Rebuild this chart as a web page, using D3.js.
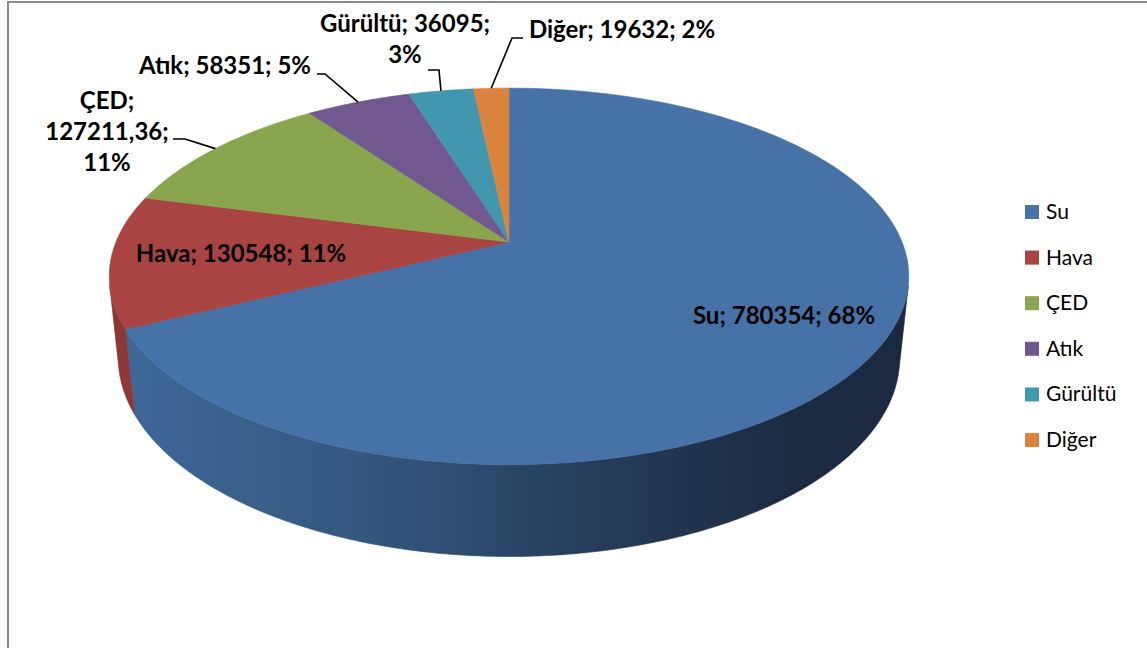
<!DOCTYPE html>
<html>
<head>
<meta charset="utf-8">
<script src="https://cdn.jsdelivr.net/npm/d3@7"></script>
<style>
  html, body { margin: 0; padding: 0; background: #ffffff; }
  svg { display: block; }
</style>
</head>
<body>
<svg id="chart" width="1147" height="648"></svg>
<script>
// Complaint categories and their totals
const categories  = ["Su", "Hava", "ÇED", "Atık", "Gürültü", "Diğer"];
const values      = [780354, 130548, 127211.36, 58351, 36095, 19632];
const valueLabels = ["780354", "130548", "127211,36", "58351", "36095", "19632"];

// Slice colours (top face) and side-wall colours
const topColors  = ["#4672a8", "#a84543", "#89a64e", "#71588f", "#4297af", "#db843d"];
const wallColors = ["url(#wallSu)", "#8c3835", "#6f8a3c", "#5b4673", "#347a8d", "#b56a2e"];

const svg = d3.select("#chart");
const W = 1147, H = 648;

// ---- gradients ----
const defs = svg.append("defs");
const g1 = defs.append("linearGradient").attr("id", "wallSu")
  .attr("gradientUnits", "userSpaceOnUse")
  .attr("x1", 120).attr("y1", 0).attr("x2", 910).attr("y2", 0);
[[0, "#3f6799"], [0.3, "#34587f"], [0.6, "#253c5a"], [0.85, "#1c2b42"], [1, "#1b2940"]]
  .forEach(([o, c]) => g1.append("stop").attr("offset", o).attr("stop-color", c));

// ---- frame ----
svg.append("rect")
  .attr("x", 8).attr("y", 2).attr("width", W + 20).attr("height", H + 20)
  .attr("fill", "#ffffff").attr("stroke", "#8a8a8a").attr("stroke-width", 2);

// ---- 3D pie projection ----
const cx = 509, cy = 242;          // screen position of the pie centre
const focal = 1908;                // focal length (px per unit at distance 1)
const dist = 1;                    // camera distance to pie centre
const radius = 0.206;              // pie radius (world units)
const thick = 0.0486;              // pie thickness (world units)
const tilt = Math.asin(0.463);     // camera elevation
const sinT = Math.sin(tilt), cosT = Math.cos(tilt);

// phi: clockwise angle from the far point; y: 0 = top face, -thick = bottom
function project(phi, y, r = radius) {
  const X = r * Math.sin(phi), Z = r * Math.cos(phi);
  const yc = y * cosT + Z * sinT;
  const depth = dist + Z * cosT - y * sinT;
  return [cx + focal * X / depth, cy - focal * yc / depth];
}

const pie = d3.pie().sort(null).value(d => d)(values);
const total = d3.sum(values);

const step = Math.PI / 360;
function arcPts(a0, a1, y) {
  const n = Math.max(2, Math.ceil(Math.abs(a1 - a0) / step));
  return d3.range(n + 1).map(i => project(a0 + (a1 - a0) * i / n, y));
}

// the outer wall faces the camera where cos(phi) < -radius / (dist * cos(tilt))
const cLim = -radius / (dist * cosT);
const visMin = Math.acos(cLim), visMax = 2 * Math.PI - Math.acos(cLim);

const line = d3.line().curve(d3.curveLinearClosed);
const walls = svg.append("g");
const tops = svg.append("g");

pie.forEach((s, i) => {
  const a = Math.max(s.startAngle, visMin), b = Math.min(s.endAngle, visMax);
  if (b > a) {
    const pts = arcPts(a, b, 0).concat(arcPts(b, a, -thick));
    walls.append("path").attr("d", line(pts))
      .attr("fill", wallColors[i]).attr("stroke", wallColors[i]).attr("stroke-width", 0.6);
  }
});

pie.forEach((s, i) => {
  const pts = [project(0, 0, 0)].concat(arcPts(s.startAngle, s.endAngle, 0));
  tops.append("path").attr("d", line(pts))
    .attr("fill", topColors[i]).attr("stroke", topColors[i]).attr("stroke-width", 0.6);
});

// ---- data labels ----
// groups: which parts (name, value, percent) share a line
const labelLayout = [
  { x: 784, y: 324, groups: [[0, 1, 2]] },
  { x: 241, y: 262, groups: [[0, 1, 2]] },
  { x: 107, y: 109, groups: [[0], [1], [2]], leader: [173, 185, 139] },
  { x: 225, y: 74,  groups: [[0, 1, 2]], leader: [317, 325, 74] },
  { x: 405, y: 32,  groups: [[0, 1], [2]], leader: [428, 439, 70] },
  { x: 622, y: 38,  groups: [[0, 1, 2]], leader: [523, 512, 38] }
];
const lineGap = 31;
const labels = svg.append("g")
  .attr("font-family", "Lato, 'Open Sans', sans-serif")
  .attr("font-weight", "bold").attr("font-size", 24).attr("fill", "#000");
const leaders = svg.append("g").attr("fill", "none").attr("stroke", "#000").attr("stroke-width", 1.6);

pie.forEach((s, i) => {
  const L = labelLayout[i];
  const parts = [categories[i], valueLabels[i], Math.round(values[i] / total * 100) + "%"];
  L.groups.forEach((g, k) => {
    const txt = g.map(j => parts[j]).join("; ") + (k < L.groups.length - 1 ? ";" : "");
    labels.append("text").attr("x", L.x).attr("y", L.y + k * lineGap)
      .attr("text-anchor", "middle").text(txt);
  });
  if (L.leader) {
    const mid = (s.startAngle + s.endAngle) / 2;
    const end = project(mid, 0);
    const [xa, xb, yl] = L.leader;
    leaders.append("path").attr("d", d3.line()([[xa, yl], [xb, yl], end]));
  }
});

// ---- legend ----
const legend = svg.append("g")
  .attr("font-family", "Lato, 'Open Sans', sans-serif").attr("font-size", 21).attr("fill", "#000");
const ly = d3.scalePoint().domain(categories).range([211.5, 439.5]);
categories.forEach((c, i) => {
  legend.append("rect").attr("x", 1025).attr("y", ly(c) - 6.5).attr("width", 14).attr("height", 14)
    .attr("fill", topColors[i]);
  legend.append("text").attr("x", 1046).attr("y", ly(c) + 7.5).text(c);
});
</script>
</body>
</html>
